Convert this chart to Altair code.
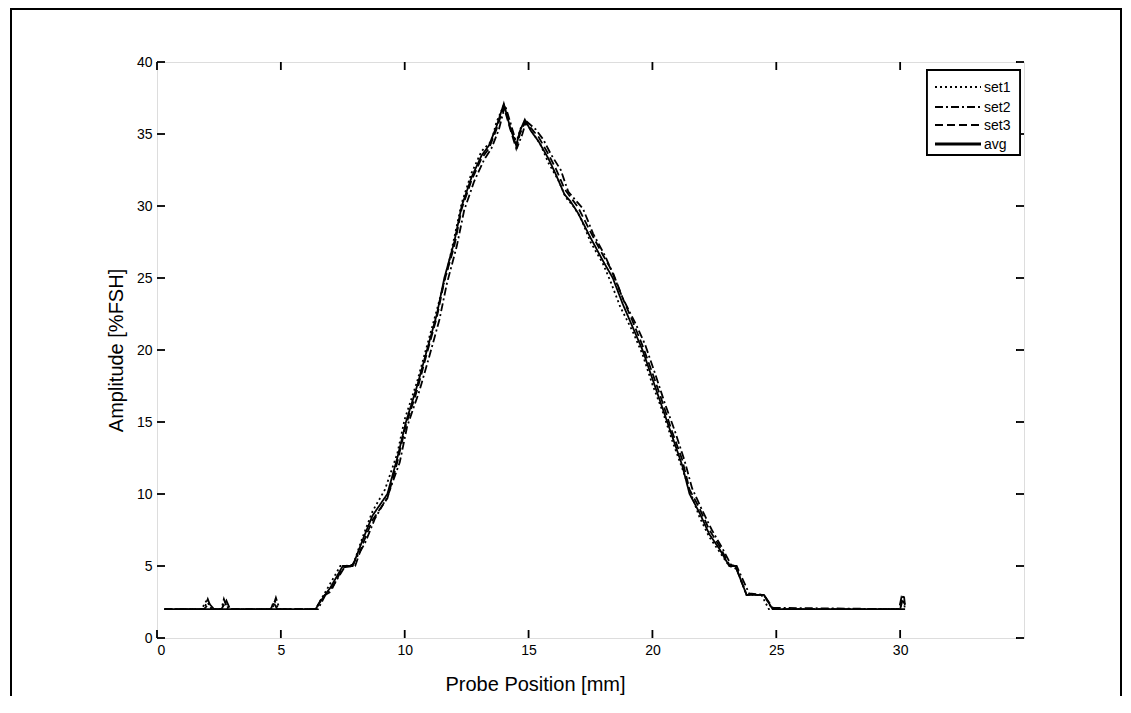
import altair as alt
import pandas as pd

# ---------------- data ----------------
avg_x = [0.3, 6.4, 6.7, 7.0, 7.5, 7.9, 8.3, 8.7, 9.3, 9.7, 10.05, 10.5, 10.9, 11.3,
         11.6, 12.0, 12.3, 12.7, 13.1, 13.4, 13.7, 14.0, 14.25, 14.5, 14.65, 14.85,
         15.1, 15.4, 15.8, 16.1, 16.45, 16.7, 17.0, 17.5, 18.0, 18.4, 18.8, 19.2,
         19.6, 20.0, 20.4, 20.8, 21.2, 21.5, 21.9, 22.3, 22.7, 23.1, 23.35, 23.8,
         24.5, 24.85, 30.0, 30.2]
avg_y = [2.0, 2.0, 2.8, 3.5, 5.0, 5.0, 6.8, 8.5, 10.0, 12.5, 15.0, 17.5, 20.0, 22.5,
         25.0, 27.5, 30.0, 32.0, 33.5, 34.2, 35.5, 37.1, 35.5, 34.2, 35.2, 36.0,
         35.2, 34.5, 33.3, 32.2, 30.8, 30.3, 29.5, 27.8, 26.2, 25.0, 23.2, 21.6,
         20.0, 18.0, 16.0, 14.0, 12.0, 10.0, 8.7, 7.2, 6.2, 5.0, 5.0, 3.0,
         3.0, 2.0, 2.0, 2.0]

set1_x = [0.3, 1.8, 2.0, 2.2, 2.6, 2.75, 2.9, 4.6, 4.75, 4.9, 6.4, 6.6, 7.0, 7.4,
          7.9, 8.3, 8.7, 9.2, 9.7, 10.0, 10.5, 10.9, 11.3, 11.7, 12.0, 12.3, 12.7,
          13.1, 13.5, 13.7, 14.0, 14.3, 14.5, 14.7, 14.9, 15.2, 15.5, 15.8, 16.2,
          16.5, 16.8, 17.1, 17.5, 18.0, 18.3, 18.7, 19.2, 19.6, 20.0, 20.4, 20.8,
          21.2, 21.6, 21.9, 22.3, 22.7, 23.1, 23.4, 23.8, 24.4, 24.7, 30.0, 30.1, 30.2]
set1_y = [2.0, 2.0, 2.6, 2.0, 2.0, 2.5, 2.0, 2.0, 2.6, 2.0, 2.0, 2.6, 3.8, 5.0,
          5.0, 7.0, 8.8, 10.3, 12.8, 15.2, 17.8, 20.3, 22.8, 25.4, 27.8, 30.2, 32.3,
          33.8, 34.5, 35.8, 37.0, 35.3, 34.4, 35.5, 35.8, 35.0, 34.2, 33.0, 31.8,
          30.6, 30.0, 29.2, 27.5, 26.0, 24.8, 23.0, 21.3, 19.7, 17.6, 15.8, 13.7,
          11.8, 9.8, 8.4, 7.0, 6.0, 5.0, 4.8, 3.0, 3.0, 2.0, 2.0, 2.9, 2.0]

set2_x = [0.3, 1.9, 2.05, 2.2, 2.6, 2.7, 2.85, 4.65, 4.8, 4.95, 6.5, 6.8, 7.1, 7.6,
          7.9, 8.4, 8.8, 9.3, 9.8, 10.1, 10.6, 11.0, 11.4, 11.7, 12.1, 12.4, 12.8,
          13.2, 13.5, 13.8, 14.05, 14.3, 14.55, 14.75, 14.9, 15.3, 15.6, 15.9, 16.3,
          16.6, 16.9, 17.2, 17.6, 18.1, 18.4, 18.8, 19.3, 19.7, 20.1, 20.5, 20.9,
          21.3, 21.6, 22.0, 22.4, 22.8, 23.2, 23.4, 23.9, 24.5, 24.8, 30.0, 30.15, 30.2]
set2_y = [2.0, 2.0, 2.7, 2.0, 2.0, 2.7, 2.0, 2.0, 2.8, 2.0, 2.0, 3.0, 3.6, 5.0,
          5.1, 6.6, 8.3, 9.8, 12.2, 14.7, 17.2, 19.6, 22.1, 24.6, 27.2, 29.7, 31.7,
          33.2, 34.0, 35.3, 37.0, 35.6, 34.1, 35.0, 35.9, 35.3, 34.6, 33.6, 32.5,
          31.0, 30.4, 29.8, 28.1, 26.5, 25.3, 23.6, 21.9, 20.4, 18.4, 16.3, 14.4,
          12.3, 10.4, 8.9, 7.5, 6.3, 5.0, 5.0, 3.1, 3.0, 2.1, 2.0, 3.0, 2.2]

set3_x = [0.3, 1.9, 2.1, 2.3, 2.6, 2.8, 2.95, 4.6, 4.7, 4.85, 6.4, 6.7, 7.0, 7.5,
          8.0, 8.3, 8.7, 9.3, 9.7, 10.05, 10.5, 10.9, 11.3, 11.6, 12.0, 12.3, 12.7,
          13.1, 13.4, 13.7, 14.0, 14.25, 14.5, 14.65, 14.85, 15.1, 15.4, 15.8, 16.1,
          16.45, 16.7, 17.0, 17.5, 18.0, 18.4, 18.8, 19.2, 19.6, 20.0, 20.4, 20.8,
          21.2, 21.5, 21.9, 22.3, 22.7, 23.1, 23.35, 23.8, 24.5, 24.9, 29.95, 30.05, 30.2]
set3_y = [2.0, 2.0, 2.4, 2.0, 2.0, 2.6, 2.0, 2.0, 2.5, 2.0, 2.0, 2.9, 3.2, 4.9,
          5.0, 6.5, 8.2, 9.7, 12.2, 14.8, 17.2, 19.8, 22.3, 24.8, 27.2, 29.8, 31.8,
          33.3, 34.0, 35.3, 36.9, 35.4, 34.0, 35.0, 35.8, 35.4, 34.8, 33.6, 32.6,
          31.2, 30.6, 29.9, 28.2, 26.6, 25.4, 23.6, 22.0, 20.3, 18.4, 16.4, 14.3,
          12.4, 10.3, 9.0, 7.5, 6.4, 5.1, 5.0, 3.0, 3.0, 2.0, 2.0, 2.8, 2.3]

series_names = ["set1", "set2", "set3", "avg"]
x_ticks = [0, 5, 10, 15, 20, 25, 30]
y_ticks = [0, 5, 10, 15, 20, 25, 30, 35, 40]

# ---------------- build table ----------------
rows = []
for name, xs, ys in [("set1", set1_x, set1_y), ("set2", set2_x, set2_y),
                     ("set3", set3_x, set3_y), ("avg", avg_x, avg_y)]:
    for i, (a, b) in enumerate(zip(xs, ys)):
        rows.append({"series": name, "x": a, "y": b, "i": i})
df = pd.DataFrame(rows)
xt = pd.DataFrame({"t": x_ticks})
yt = pd.DataFrame({"t": y_ticks})
leg = pd.DataFrame({"series": series_names})

W, H = 867, 576
FONT = "Liberation Sans"
DASHES = [[2, 3], [8, 3, 2, 3], [8, 4], [1, 0]]
WIDTHS = [1.8, 1.8, 1.9, 2.8]

xscale = alt.Scale(domain=[0, 35], nice=False, zero=False)
yscale = alt.Scale(domain=[0, 40], nice=False)

lines = alt.Chart(df).mark_line(color="black", clip=True).encode(
    x=alt.X("x:Q", scale=xscale,
            axis=alt.Axis(values=x_ticks, format="d", title="Probe Position [mm]",
                          tickSize=0, domain=False, grid=False, labelPadding=5,
                          labelFontSize=14, titleFontSize=20, titlePadding=17,
                          titleX=378, titleAnchor="middle",
                          labelFont=FONT, titleFont=FONT, titleFontWeight="normal",
                          labelColor="black", titleColor="black")),
    y=alt.Y("y:Q", scale=yscale,
            axis=alt.Axis(values=y_ticks, format="d", title="Amplitude [%FSH]",
                          tickSize=0, domain=False, grid=False, labelPadding=5,
                          labelFontSize=14, titleFontSize=20, titlePadding=10,
                          labelFont=FONT, titleFont=FONT, titleFontWeight="normal",
                          labelColor="black", titleColor="black")),
    order="i:Q",
    strokeDash=alt.StrokeDash("series:N",
                              scale=alt.Scale(domain=series_names, range=DASHES),
                              legend=None),
    strokeWidth=alt.StrokeWidth("series:N",
                                scale=alt.Scale(domain=series_names, range=WIDTHS),
                                legend=None),
)

tick_bottom = alt.Chart(xt).mark_rule(color="black", strokeWidth=1.8).encode(
    x=alt.X("t:Q", scale=xscale), y=alt.value(H), y2=alt.value(H - 8))
tick_top = alt.Chart(xt).mark_rule(color="black", strokeWidth=1.8).encode(
    x=alt.X("t:Q", scale=xscale), y=alt.value(0), y2=alt.value(8))
tick_left = alt.Chart(yt).mark_rule(color="black", strokeWidth=1.8).encode(
    y=alt.Y("t:Q", scale=yscale), x=alt.value(0), x2=alt.value(8))
tick_right = alt.Chart(yt).mark_rule(color="black", strokeWidth=1.8).encode(
    y=alt.Y("t:Q", scale=yscale), x=alt.value(W), x2=alt.value(W - 8))

# outer figure frame
frame = alt.Chart(xt).mark_rect(fillOpacity=0, stroke="black", strokeWidth=1.8).encode(
    x=alt.value(-146), x2=alt.value(964), y=alt.value(-53), y2=alt.value(700))

# manual MATLAB-style legend box
leg_box = alt.Chart(xt).mark_rect(fill="white", stroke="black", strokeWidth=1.8).encode(
    x=alt.value(770), x2=alt.value(863), y=alt.value(8), y2=alt.value(93))

row_y = {"set1": 25, "set2": 45, "set3": 63, "avg": 82}
leg_layers = []
for k, name in enumerate(series_names):
    d = leg[leg["series"] == name]
    leg_layers.append(
        alt.Chart(d).mark_rule(color="black", strokeDash=DASHES[k],
                               strokeWidth=WIDTHS[k]).encode(
            x=alt.value(778), x2=alt.value(824),
            y=alt.value(row_y[name]), y2=alt.value(row_y[name])))
    leg_layers.append(
        alt.Chart(d).mark_text(align="left", baseline="middle", font=FONT,
                               fontSize=14, color="black").encode(
            text="series:N", x=alt.value(827), y=alt.value(row_y[name] + 1)))

chart = alt.layer(frame, lines, tick_bottom, tick_top, tick_left, tick_right,
                  leg_box, *leg_layers).properties(
    width=W, height=H,
    autosize=alt.AutoSizeParams(type="none"),
    padding={"left": 149, "top": 54, "right": 98, "bottom": 58},
).configure_view(stroke="black", strokeWidth=2).configure(background="white")

chart.save("out.html", embed_options={"renderer": "svg", "actions": False})
